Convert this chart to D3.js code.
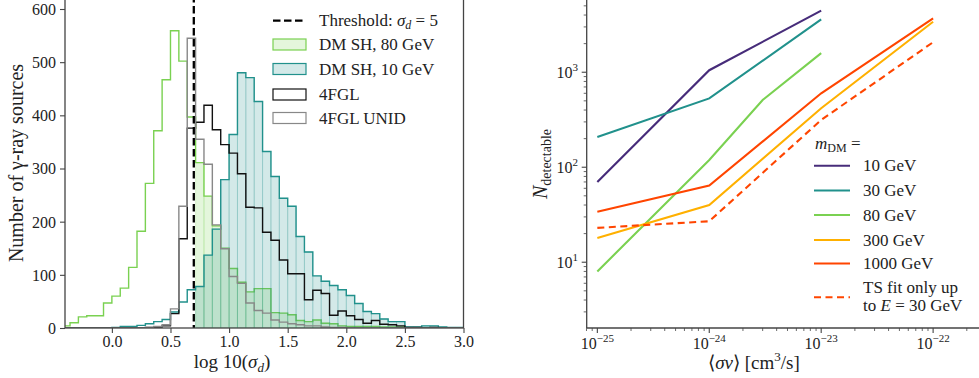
<!DOCTYPE html>
<html><head><meta charset="utf-8">
<script src="https://cdn.jsdelivr.net/npm/d3@7"></script>
<style>
body{margin:0;background:#fff;}
svg text{font-family:"Liberation Serif","Times New Roman",serif;fill:#222;}
</style></head><body>
<svg id="c" width="979" height="378"></svg>
<script>
// ---------- Left panel data (histograms, shared bin edges) ----------
const binEdges = [-0.5,-0.4286,-0.3571,-0.2857,-0.2143,-0.1429,-0.0714,0.0,0.0714,0.1429,
  0.2143,0.2857,0.3571,0.4286,0.5,0.5714,0.6429,0.7143,0.7857,0.8571,
  0.9286,1.0,1.0714,1.1429,1.2143,1.2857,1.3571,1.4286,1.5,1.5714,
  1.6429,1.7143,1.7857,1.8571,1.9286,2.0,2.0714,2.1429,2.2143,2.2857,
  2.3571,2.4286,2.5,2.5714,2.6429,2.7143,2.7857,2.8571,2.9286,3.0];
const dmSH80 = [2,4,10,21,23,23,47,60,75,114, 182,272,371,467,559,502,397,311,248,192,
  150,112,86,68,74,74,29,28,25,14, 12,15,9,8,4,3,3,3,3,2, 2,2,0,0,0,0,0,0,0];
const dmSH10 = [0,0,0,0,0,0,0,1,3,3, 5,8,12,16,30,49,72,78,137,186,
  279,364,480,471,426,332,285,244,229,172, 143,98,88,80,72,61,46,31,27,17, 12,12,2,2,4,4,2,1,1];
const fgl = [0,0,0,0,0,0,0,0,0,0, 0,1,2,4,27,168,376,387,419,373,
  345,329,290,227,226,180,165,128,102,102, 53,71,65,24,32,23,16,9,14,7, 6,4,1,1,0,1,0,0,0];
const fglUnid = [0,0,0,0,0,0,0,0,0,0, 0,1,3,6,36,229,545,355,308,194,
  149,97,84,47,33,28,15,11,8,6, 4,4,2,1,1,0,0,0,0,0, 0,0,0,0,0,0,0,0,0];
const threshold = 5;
const xTicksL = [0.0,0.5,1.0,1.5,2.0,2.5,3.0];
const yTicksL = [0,100,200,300,400,500,600];

// ---------- Right panel data ----------
const sv3 = [1e-25,1e-24,1e-23];
const sv80 = [1e-25,1e-24,3e-24,1e-23];
const sv4 = [1e-25,1e-24,1e-23,1e-22];
const n10 = [70,1050,4450];
const n30 = [208,530,3600];
const n80 = [8,119,510,1590];
const n300 = [18,40,418,3400];
const n1000 = [34,64,600,3700];
const nTS30 = [23,27,315,2070];
const xTicksR = [-25,-24,-23,-22];
const yTicksR = [1,2,3];

const svg = d3.select("#c");
const spineCol = "#444", txtCol = "#222";
const cTeal = "#21918c", cGreen = "#7ad151", cPurple = "#472c7a", cOrange = "#ffb000", cRed = "#ff4500";
const legFs = 17;

// =============== LEFT PANEL ===============
const xL = d3.scaleLinear().domain([-0.4, 3.0]).range([65, 463.5]);
const yL = d3.scaleLinear().domain([0, 600]).range([328, 9]);
svg.append("clipPath").attr("id","clipL").append("rect")
  .attr("x",65).attr("y",-5).attr("width",463.5-65).attr("height",333);
const gL = svg.append("g").attr("clip-path","url(#clipL)");

function stepPts(vals){
  const p = [[xL(binEdges[0]), yL(0)]];
  vals.forEach((v,i)=>{ p.push([xL(binEdges[i]), yL(v)]); p.push([xL(binEdges[i+1]), yL(v)]); });
  p.push([xL(binEdges[vals.length]), yL(0)]);
  return p;
}
const line = d3.line();
function fillBars(vals, col){
  const g = gL.append("g");
  vals.forEach((v,i)=>{
    if (binEdges[i] < Math.log10(threshold) || v<=0) return;
    g.append("rect").attr("x", xL(binEdges[i])).attr("y", yL(v))
      .attr("width", xL(binEdges[i+1])-xL(binEdges[i])).attr("height", yL(0)-yL(v))
      .attr("fill", col).attr("fill-opacity",0.2)
      .attr("stroke", col).attr("stroke-opacity",0.2).attr("stroke-width",1);
  });
}
fillBars(dmSH80, cGreen);
gL.append("path").attr("d", line(stepPts(dmSH80))).attr("fill","none").attr("stroke",cGreen).attr("stroke-width",1.4);
fillBars(dmSH10, cTeal);
gL.append("path").attr("d", line(stepPts(dmSH10))).attr("fill","none").attr("stroke",cTeal).attr("stroke-width",1.4);
gL.append("path").attr("d", line(stepPts(fgl))).attr("fill","none").attr("stroke","#111").attr("stroke-width",1.4);
gL.append("path").attr("d", line(stepPts(fglUnid))).attr("fill","none").attr("stroke","#888").attr("stroke-width",1.4);
gL.append("line").attr("x1", xL(Math.log10(threshold))).attr("x2", xL(Math.log10(threshold)))
  .attr("y1",-5).attr("y2",328).attr("stroke","#000").attr("stroke-width",2.3).attr("stroke-dasharray","7.5,3.5");

// axes
function styleAxis(g){
  g.attr("font-family",null).attr("font-size",null);
  g.select(".domain").remove();
  g.selectAll(".tick line").attr("stroke",spineCol).attr("stroke-width",1.1);
  g.selectAll(".tick text").attr("font-size",16).attr("fill",txtCol);
}
const axBL = svg.append("g").attr("transform","translate(0,328)")
  .call(d3.axisBottom(xL).tickValues(xTicksL).tickFormat(d3.format(".1f")).tickSize(5).tickPadding(3));
styleAxis(axBL);
const axLL = svg.append("g").attr("transform","translate(65,0)")
  .call(d3.axisLeft(yL).tickValues(yTicksL).tickFormat(d3.format("d")).tickSize(5).tickPadding(4));
styleAxis(axLL);
axLL.selectAll(".tick text").attr("dy","0.34em");
svg.append("rect").attr("x",65).attr("y",-3).attr("width",463.5-65).attr("height",331)
  .attr("fill","none").attr("stroke",spineCol).attr("stroke-width",1.3);

// labels
svg.append("text").attr("transform","translate(23,163) rotate(-90)").attr("text-anchor","middle")
  .attr("font-size",20).text("Number of γ-ray sources");
const xl = svg.append("text").attr("x",232).attr("y",368).attr("text-anchor","middle").attr("font-size",19);
xl.append("tspan").text("log 10(");
xl.append("tspan").attr("font-style","italic").text("σ");
xl.append("tspan").attr("font-style","italic").attr("font-size",13).attr("dy",4).text("d");
xl.append("tspan").attr("dy",-4).text(")");

// legend left
const legL = svg.append("g");
const lx0 = 273, lx1 = 306, ltx = 319;
const rowsL = [20.7, 44.5, 69, 94.5, 118];
legL.append("line").attr("x1",lx0).attr("x2",lx1).attr("y1",rowsL[0]).attr("y2",rowsL[0])
  .attr("stroke","#000").attr("stroke-width",2.3).attr("stroke-dasharray","7.5,3.5");
const t0 = legL.append("text").attr("x",ltx).attr("y",rowsL[0]+5.5).attr("font-size",legFs);
t0.append("tspan").text("Threshold: ");
t0.append("tspan").attr("font-style","italic").text("σ");
t0.append("tspan").attr("font-style","italic").attr("font-size",12).attr("dy",3).text("d");
t0.append("tspan").attr("dy",-3).text(" = 5");
const patches = [
  {lab:"DM SH, 80 GeV", edge:cGreen, fill:cGreen, op:0.2},
  {lab:"DM SH, 10 GeV", edge:cTeal, fill:cTeal, op:0.2},
  {lab:"4FGL", edge:"#111", fill:"#fff", op:0},
  {lab:"4FGL UNID", edge:"#888", fill:"#fff", op:0}];
patches.forEach((p,i)=>{
  const cy = rowsL[i+1];
  legL.append("rect").attr("x",lx0).attr("y",cy-5.5).attr("width",lx1-lx0).attr("height",11)
    .attr("fill",p.fill).attr("fill-opacity",p.op).attr("stroke",p.edge).attr("stroke-width",1.2);
  legL.append("text").attr("x",ltx).attr("y",cy+5.5).attr("font-size",legFs).text(p.lab);
});

// =============== RIGHT PANEL ===============
const xR = d3.scaleLog().domain([Math.pow(10,-25.095), Math.pow(10,-21.59)]).range([586.7, 979]);
const yR = d3.scaleLog().domain([2.03, 5760]).range([328, 0]);
svg.append("clipPath").attr("id","clipR").append("rect")
  .attr("x",586.7).attr("y",-5).attr("width",400).attr("height",333);
const gR = svg.append("g").attr("clip-path","url(#clipR)");
const lineR = d3.line().x(d=>xR(d[0])).y(d=>yR(d[1]));
const seriesR = [
  {x:sv3, y:n10, c:cPurple, dash:null, lab:"10 GeV"},
  {x:sv3, y:n30, c:cTeal, dash:null, lab:"30 GeV"},
  {x:sv80, y:n80, c:cGreen, dash:null, lab:"80 GeV"},
  {x:sv4, y:n300, c:cOrange, dash:null, lab:"300 GeV"},
  {x:sv4, y:n1000, c:cRed, dash:null, lab:"1000 GeV"},
  {x:sv4, y:nTS30, c:cRed, dash:"7,4.5", lab:null}];
seriesR.forEach(s=>{
  gR.append("path").attr("d", lineR(s.x.map((v,i)=>[v,s.y[i]]))).attr("fill","none")
    .attr("stroke",s.c).attr("stroke-width",2.1).attr("stroke-dasharray",s.dash);
});

// axes right: spines
svg.append("line").attr("x1",586.7).attr("x2",586.7).attr("y1",-3).attr("y2",328).attr("stroke",spineCol).attr("stroke-width",1.3);
svg.append("line").attr("x1",586.7).attr("x2",979).attr("y1",328).attr("y2",328).attr("stroke",spineCol).attr("stroke-width",1.3);
// x ticks
const gxR = svg.append("g");
for (let e=-26; e<=-22; e++){
  for (let m=1; m<10; m++){
    const v = m*Math.pow(10,e);
    const px = xR(v);
    if (px < 586 || px > 979) continue;
    gxR.append("line").attr("x1",px).attr("x2",px).attr("y1",328).attr("y2", m===1?333:331)
      .attr("stroke",spineCol).attr("stroke-width", m===1?1.1:0.8);
  }
}
xTicksR.forEach(e=>{
  const t = gxR.append("text").attr("x",xR(Math.pow(10,e))).attr("y",349).attr("text-anchor","middle").attr("font-size",16);
  t.append("tspan").text("10");
  t.append("tspan").attr("font-size",11).attr("dy",-7).text("−"+Math.abs(e));
});
// y ticks
const gyR = svg.append("g");
for (let e=0; e<=3; e++){
  for (let m=1; m<10; m++){
    const v = m*Math.pow(10,e);
    const py = yR(v);
    if (py < 0 || py > 328) continue;
    gyR.append("line").attr("x1",586.7).attr("x2", m===1?581.7:583.7).attr("y1",py).attr("y2",py)
      .attr("stroke",spineCol).attr("stroke-width", m===1?1.1:0.8);
  }
}
yTicksR.forEach(e=>{
  const t = gyR.append("text").attr("x",578).attr("y",yR(Math.pow(10,e))+6).attr("text-anchor","end").attr("font-size",16);
  t.append("tspan").text("10");
  t.append("tspan").attr("font-size",11).attr("dy",-7).text(e);
});
// labels right
const yl = svg.append("text").attr("transform","translate(547,164) rotate(-90)").attr("text-anchor","middle").attr("font-size",20);
yl.append("tspan").attr("font-style","italic").text("N");
yl.append("tspan").attr("font-size",14).attr("dy",4).text("detectable");
const xlR = svg.append("text").attr("x",754).attr("y",369).attr("text-anchor","middle").attr("font-size",19);
xlR.append("tspan").text("⟨");
xlR.append("tspan").attr("font-style","italic").text("σv");
xlR.append("tspan").text("⟩ [cm");
xlR.append("tspan").attr("font-size",13).attr("dy",-8).text("3");
xlR.append("tspan").attr("dy",8).text("/s]");

// legend right
const legR = svg.append("g");
const tt = legR.append("text").attr("x",815).attr("y",149).attr("font-size",legFs);
tt.append("tspan").attr("font-style","italic").text("m");
tt.append("tspan").attr("font-size",12).attr("dy",3).text("DM");
tt.append("tspan").attr("dy",-3).text(" =");
const rowsR = [165.7, 190.5, 215, 240, 263.5, 297.3];
seriesR.forEach((s,i)=>{
  const cy = rowsR[i];
  legR.append("line").attr("x1",814).attr("x2",850).attr("y1",cy).attr("y2",cy)
    .attr("stroke",s.c).attr("stroke-width",2.1).attr("stroke-dasharray",s.dash);
  if (s.lab) legR.append("text").attr("x",863).attr("y",cy+5.5).attr("font-size",legFs).text(s.lab);
});
legR.append("text").attr("x",863).attr("y",293).attr("font-size",legFs).text("TS fit only up");
const tl = legR.append("text").attr("x",863).attr("y",311).attr("font-size",legFs);
tl.append("tspan").text("to ");
tl.append("tspan").attr("font-style","italic").text("E");
tl.append("tspan").text(" = 30 GeV");
</script></body></html>
